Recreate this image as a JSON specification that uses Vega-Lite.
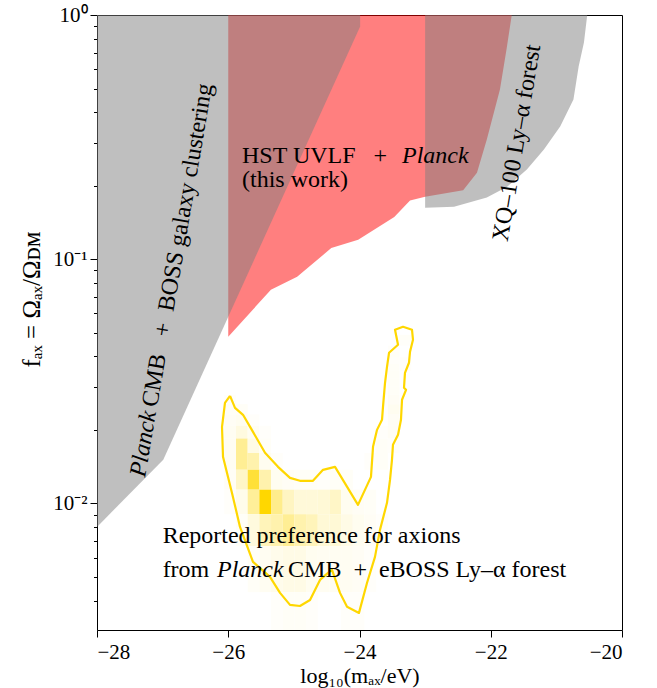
{
  "$schema": "https://vega.github.io/schema/vega-lite/v6.json",
  "width": 525,
  "height": 615,
  "autosize": {"type": "none"},
  "padding": {"left": 97, "top": 15, "right": 35, "bottom": 58},
  "config": {
    "font": "Liberation Serif",
    "view": {"stroke": "black", "strokeWidth": 1},
    "axis": {"domain": false, "grid": false, "tickColor": "black", "tickWidth": 1, "labelColor": "black", "titleColor": "black", "labelFont": "Liberation Serif", "titleFont": "Liberation Serif", "titleFontWeight": "normal", "labelFontSize": 21, "titleFontSize": 23}
  },
  "encoding": {
    "x": {"field": "m", "type": "quantitative", "scale": {"domain": [-28, -20], "nice": false, "zero": false},
      "axis": {"values": [-28, -26, -24, -22, -20], "tickSize": 7, "labelPadding": 4, "title": "log₁₀(mₐₓ/eV)", "titleFontSize": 22, "titleY": 52, "titleBaseline": "alphabetic"}},
    "y": {"field": "f", "type": "quantitative", "scale": {"type": "log", "domain": [0.00303, 1], "nice": false},
      "axis": {"values": [0.004, 0.005, 0.006, 0.007, 0.008, 0.009, 0.01, 0.02, 0.03, 0.04, 0.05, 0.06, 0.07, 0.08, 0.09, 0.1, 0.2, 0.3, 0.4, 0.5, 0.6, 0.7, 0.8, 0.9, 1],
        "tickSize": {"condition": {"test": "datum.value === 1 || datum.value === 0.1 || datum.value === 0.01", "value": 7}, "value": 3.5},
        "labelExpr": "datum.value === 1 ? '10⁰' : datum.value === 0.1 ? '10⁻¹' : datum.value === 0.01 ? '10⁻²' : ''",
        "labelPadding": 3, "title": "fₐₓ = Ωₐₓ/Ωᴅᴍ", "titleFontSize": 25, "titleX": -66, "titleY": 284, "titleBaseline": "middle"}}
  },
  "layer": [
    {
      "data": {"values": [
        {"m": -26.0, "f": 0.0481}, {"m": -25.35, "f": 0.075}, {"m": -24.95, "f": 0.0848}, {"m": -24.43, "f": 0.111},
        {"m": -24.02, "f": 0.12}, {"m": -23.47, "f": 0.149}, {"m": -23.23, "f": 0.174}, {"m": -23.0, "f": 0.18},
        {"m": -22.42, "f": 0.1915}, {"m": -22.21, "f": 0.226}, {"m": -22.06, "f": 0.309}, {"m": -21.86, "f": 0.495},
        {"m": -21.76, "f": 0.722}, {"m": -21.68, "f": 1.0}
      ]},
      "mark": {"type": "area", "color": "#ff0000", "opacity": 0.5},
      "encoding": {"y2": {"datum": 1}}
    },
    {
      "data": {"values": [
        {"m": -28.0, "f": 0.00801}, {"m": -26.99, "f": 0.0151}, {"m": -23.99, "f": 0.897}
      ]},
      "mark": {"type": "area", "color": "#808080", "opacity": 0.5},
      "encoding": {"y2": {"datum": 1}}
    },
    {
      "data": {"values": [
        {"m": -23.0, "f": 0.1626}, {"m": -22.56, "f": 0.164}, {"m": -22.06, "f": 0.1787}, {"m": -21.75, "f": 0.198},
        {"m": -21.45, "f": 0.233}, {"m": -21.19, "f": 0.281}, {"m": -20.94, "f": 0.35}, {"m": -20.74, "f": 0.451},
        {"m": -20.66, "f": 0.617}, {"m": -20.58, "f": 0.772}, {"m": -20.53, "f": 1.0}
      ]},
      "mark": {"type": "area", "color": "#808080", "opacity": 0.5},
      "encoding": {"y2": {"datum": 1}}
    },
    {
      "data": {"values": [
        {"m": -26.060, "m2": -25.882, "f": 0.02548, "f2": 0.02783, "v": 0.02},
        {"m": -26.060, "m2": -25.882, "f": 0.02313, "f2": 0.02548, "v": 0.03},
        {"m": -25.882, "m2": -25.704, "f": 0.02313, "f2": 0.02548, "v": 0.03},
        {"m": -26.060, "m2": -25.882, "f": 0.02078, "f2": 0.02313, "v": 0.04},
        {"m": -25.882, "m2": -25.704, "f": 0.02078, "f2": 0.02313, "v": 0.06},
        {"m": -25.704, "m2": -25.526, "f": 0.02078, "f2": 0.02313, "v": 0.02},
        {"m": -26.060, "m2": -25.882, "f": 0.01843, "f2": 0.02078, "v": 0.05},
        {"m": -25.882, "m2": -25.704, "f": 0.01843, "f2": 0.02078, "v": 0.12},
        {"m": -25.704, "m2": -25.526, "f": 0.01843, "f2": 0.02078, "v": 0.05},
        {"m": -25.526, "m2": -25.348, "f": 0.01843, "f2": 0.02078, "v": 0.02},
        {"m": -26.060, "m2": -25.882, "f": 0.01608, "f2": 0.01843, "v": 0.05},
        {"m": -25.882, "m2": -25.704, "f": 0.01608, "f2": 0.01843, "v": 0.42},
        {"m": -25.704, "m2": -25.526, "f": 0.01608, "f2": 0.01843, "v": 0.1},
        {"m": -25.526, "m2": -25.348, "f": 0.01608, "f2": 0.01843, "v": 0.03},
        {"m": -26.060, "m2": -25.882, "f": 0.01373, "f2": 0.01608, "v": 0.05},
        {"m": -25.882, "m2": -25.704, "f": 0.01373, "f2": 0.01608, "v": 0.42},
        {"m": -25.704, "m2": -25.526, "f": 0.01373, "f2": 0.01608, "v": 0.32},
        {"m": -25.526, "m2": -25.348, "f": 0.01373, "f2": 0.01608, "v": 0.06},
        {"m": -25.348, "m2": -25.170, "f": 0.01373, "f2": 0.01608, "v": 0.02},
        {"m": -26.060, "m2": -25.882, "f": 0.01138, "f2": 0.01373, "v": 0.04},
        {"m": -25.882, "m2": -25.704, "f": 0.01138, "f2": 0.01373, "v": 0.22},
        {"m": -25.704, "m2": -25.526, "f": 0.01138, "f2": 0.01373, "v": 0.78},
        {"m": -25.526, "m2": -25.348, "f": 0.01138, "f2": 0.01373, "v": 0.32},
        {"m": -25.348, "m2": -25.170, "f": 0.01138, "f2": 0.01373, "v": 0.06},
        {"m": -25.170, "m2": -24.992, "f": 0.01138, "f2": 0.01373, "v": 0.04},
        {"m": -24.992, "m2": -24.814, "f": 0.01138, "f2": 0.01373, "v": 0.03},
        {"m": -24.814, "m2": -24.636, "f": 0.01138, "f2": 0.01373, "v": 0.03},
        {"m": -24.636, "m2": -24.458, "f": 0.01138, "f2": 0.01373, "v": 0.02},
        {"m": -24.458, "m2": -24.280, "f": 0.01138, "f2": 0.01373, "v": 0.03},
        {"m": -24.280, "m2": -24.102, "f": 0.01138, "f2": 0.01373, "v": 0.03},
        {"m": -26.060, "m2": -25.882, "f": 0.00903, "f2": 0.01138, "v": 0.02},
        {"m": -25.882, "m2": -25.704, "f": 0.00903, "f2": 0.01138, "v": 0.08},
        {"m": -25.704, "m2": -25.526, "f": 0.00903, "f2": 0.01138, "v": 0.4},
        {"m": -25.526, "m2": -25.348, "f": 0.00903, "f2": 0.01138, "v": 1.0},
        {"m": -25.348, "m2": -25.170, "f": 0.00903, "f2": 0.01138, "v": 0.45},
        {"m": -25.170, "m2": -24.992, "f": 0.00903, "f2": 0.01138, "v": 0.24},
        {"m": -24.992, "m2": -24.814, "f": 0.00903, "f2": 0.01138, "v": 0.15},
        {"m": -24.814, "m2": -24.636, "f": 0.00903, "f2": 0.01138, "v": 0.15},
        {"m": -24.636, "m2": -24.458, "f": 0.00903, "f2": 0.01138, "v": 0.16},
        {"m": -24.458, "m2": -24.280, "f": 0.00903, "f2": 0.01138, "v": 0.22},
        {"m": -24.280, "m2": -24.102, "f": 0.00903, "f2": 0.01138, "v": 0.06},
        {"m": -24.102, "m2": -23.924, "f": 0.00903, "f2": 0.01138, "v": 0.04},
        {"m": -23.924, "m2": -23.746, "f": 0.00903, "f2": 0.01138, "v": 0.03},
        {"m": -25.882, "m2": -25.704, "f": 0.00668, "f2": 0.00903, "v": 0.03},
        {"m": -25.704, "m2": -25.526, "f": 0.00668, "f2": 0.00903, "v": 0.13},
        {"m": -25.526, "m2": -25.348, "f": 0.00668, "f2": 0.00903, "v": 0.27},
        {"m": -25.348, "m2": -25.170, "f": 0.00668, "f2": 0.00903, "v": 0.32},
        {"m": -25.170, "m2": -24.992, "f": 0.00668, "f2": 0.00903, "v": 0.42},
        {"m": -24.992, "m2": -24.814, "f": 0.00668, "f2": 0.00903, "v": 0.32},
        {"m": -24.814, "m2": -24.636, "f": 0.00668, "f2": 0.00903, "v": 0.27},
        {"m": -24.636, "m2": -24.458, "f": 0.00668, "f2": 0.00903, "v": 0.16},
        {"m": -24.458, "m2": -24.280, "f": 0.00668, "f2": 0.00903, "v": 0.16},
        {"m": -24.280, "m2": -24.102, "f": 0.00668, "f2": 0.00903, "v": 0.1},
        {"m": -24.102, "m2": -23.924, "f": 0.00668, "f2": 0.00903, "v": 0.06},
        {"m": -23.924, "m2": -23.746, "f": 0.00668, "f2": 0.00903, "v": 0.04},
        {"m": -23.746, "m2": -23.568, "f": 0.00668, "f2": 0.00903, "v": 0.02},
        {"m": -25.704, "m2": -25.526, "f": 0.00433, "f2": 0.00668, "v": 0.03},
        {"m": -25.526, "m2": -25.348, "f": 0.00433, "f2": 0.00668, "v": 0.05},
        {"m": -25.348, "m2": -25.170, "f": 0.00433, "f2": 0.00668, "v": 0.08},
        {"m": -25.170, "m2": -24.992, "f": 0.00433, "f2": 0.00668, "v": 0.1},
        {"m": -24.992, "m2": -24.814, "f": 0.00433, "f2": 0.00668, "v": 0.1},
        {"m": -24.814, "m2": -24.636, "f": 0.00433, "f2": 0.00668, "v": 0.06},
        {"m": -24.636, "m2": -24.458, "f": 0.00433, "f2": 0.00668, "v": 0.05},
        {"m": -24.458, "m2": -24.280, "f": 0.00433, "f2": 0.00668, "v": 0.05},
        {"m": -24.280, "m2": -24.102, "f": 0.00433, "f2": 0.00668, "v": 0.05},
        {"m": -24.102, "m2": -23.924, "f": 0.00433, "f2": 0.00668, "v": 0.04},
        {"m": -23.924, "m2": -23.746, "f": 0.00433, "f2": 0.00668, "v": 0.02},
        {"m": -25.348, "m2": -25.170, "f": 0.00198, "f2": 0.00433, "v": 0.02},
        {"m": -25.170, "m2": -24.992, "f": 0.00198, "f2": 0.00433, "v": 0.03},
        {"m": -24.992, "m2": -24.814, "f": 0.00198, "f2": 0.00433, "v": 0.03},
        {"m": -24.814, "m2": -24.636, "f": 0.00198, "f2": 0.00433, "v": 0.02},
        {"m": -24.280, "m2": -24.102, "f": 0.00198, "f2": 0.00433, "v": 0.02},
        {"m": -24.102, "m2": -23.924, "f": 0.00198, "f2": 0.00433, "v": 0.02},
        {"m": -23.924, "m2": -23.746, "f": 0.01373, "f2": 0.01608, "v": 0.02},
        {"m": -23.746, "m2": -23.568, "f": 0.01373, "f2": 0.01608, "v": 0.03},
        {"m": -23.746, "m2": -23.568, "f": 0.01608, "f2": 0.01843, "v": 0.03},
        {"m": -23.568, "m2": -23.390, "f": 0.01608, "f2": 0.01843, "v": 0.02},
        {"m": -23.746, "m2": -23.568, "f": 0.01843, "f2": 0.02078, "v": 0.02},
        {"m": -23.568, "m2": -23.390, "f": 0.01843, "f2": 0.02078, "v": 0.04},
        {"m": -23.568, "m2": -23.390, "f": 0.02078, "f2": 0.02313, "v": 0.04},
        {"m": -23.568, "m2": -23.390, "f": 0.02313, "f2": 0.02548, "v": 0.06},
        {"m": -23.568, "m2": -23.390, "f": 0.02548, "f2": 0.02783, "v": 0.04},
        {"m": -23.568, "m2": -23.390, "f": 0.02783, "f2": 0.03018, "v": 0.03},
        {"m": -23.568, "m2": -23.390, "f": 0.03018, "f2": 0.03253, "v": 0.03},
        {"m": -23.568, "m2": -23.390, "f": 0.03253, "f2": 0.03488, "v": 0.03},
        {"m": -23.568, "m2": -23.390, "f": 0.03488, "f2": 0.03723, "v": 0.03},
        {"m": -23.390, "m2": -23.212, "f": 0.03488, "f2": 0.03723, "v": 0.02},
        {"m": -23.568, "m2": -23.390, "f": 0.03723, "f2": 0.03958, "v": 0.02},
        {"m": -23.390, "m2": -23.212, "f": 0.03723, "f2": 0.03958, "v": 0.02},
        {"m": -23.568, "m2": -23.390, "f": 0.03958, "f2": 0.04193, "v": 0.03},
        {"m": -23.568, "m2": -23.390, "f": 0.04193, "f2": 0.04428, "v": 0.02},
        {"m": -23.390, "m2": -23.212, "f": 0.04428, "f2": 0.04663, "v": 0.02},
        {"m": -23.390, "m2": -23.212, "f": 0.04663, "f2": 0.04898, "v": 0.03}
      ]},
      "mark": {"type": "rect", "clip": true},
      "encoding": {
        "x2": {"field": "m2"},
        "y2": {"field": "f2"},
        "color": {"field": "v", "type": "quantitative", "scale": {"domain": [0, 1], "range": ["#ffffff", "#ffd700"], "interpolate": "rgb"}, "legend": null}
      }
    },
    {
      "data": {"values": [
        {"i": 1, "m": -25.973, "f": 0.02757}, {"i": 2, "m": -25.897, "f": 0.02462}, {"i": 3, "m": -25.775, "f": 0.02305},
        {"i": 4, "m": -25.623, "f": 0.01963}, {"i": 5, "m": -25.44, "f": 0.01611}, {"i": 6, "m": -25.242, "f": 0.01411},
        {"i": 7, "m": -25.059, "f": 0.01272}, {"i": 8, "m": -24.907, "f": 0.01237}, {"i": 9, "m": -24.709, "f": 0.01237},
        {"i": 10, "m": -24.556, "f": 0.01372}, {"i": 11, "m": -24.373, "f": 0.01411}, {"i": 12, "m": -24.023, "f": 0.00986},
        {"i": 13, "m": -23.825, "f": 0.01284}, {"i": 14, "m": -23.794, "f": 0.01704}, {"i": 15, "m": -23.733, "f": 0.02},
        {"i": 16, "m": -23.657, "f": 0.02199}, {"i": 17, "m": -23.642, "f": 0.02485}, {"i": 18, "m": -23.611, "f": 0.03118},
        {"i": 19, "m": -23.581, "f": 0.03625}, {"i": 20, "m": -23.55, "f": 0.04137}, {"i": 21, "m": -23.413, "f": 0.04463},
        {"i": 22, "m": -23.459, "f": 0.05141}, {"i": 23, "m": -23.337, "f": 0.05288}, {"i": 24, "m": -23.2, "f": 0.05141},
        {"i": 25, "m": -23.185, "f": 0.04678}, {"i": 26, "m": -23.23, "f": 0.04177}, {"i": 27, "m": -23.246, "f": 0.03765},
        {"i": 28, "m": -23.307, "f": 0.03425}, {"i": 29, "m": -23.322, "f": 0.02974}, {"i": 30, "m": -23.291, "f": 0.02918},
        {"i": 31, "m": -23.352, "f": 0.02656}, {"i": 32, "m": -23.368, "f": 0.02199}, {"i": 33, "m": -23.413, "f": 0.01909},
        {"i": 34, "m": -23.49, "f": 0.01737}, {"i": 35, "m": -23.505, "f": 0.01508}, {"i": 36, "m": -23.535, "f": 0.01248},
        {"i": 37, "m": -23.581, "f": 0.01005}, {"i": 38, "m": -23.688, "f": 0.00779}, {"i": 39, "m": -23.764, "f": 0.00604},
        {"i": 40, "m": -23.886, "f": 0.00472}, {"i": 41, "m": -24.008, "f": 0.00356}, {"i": 42, "m": -24.19, "f": 0.00377},
        {"i": 43, "m": -24.297, "f": 0.0043}, {"i": 44, "m": -24.419, "f": 0.00534}, {"i": 45, "m": -24.48, "f": 0.00519},
        {"i": 46, "m": -24.602, "f": 0.00486}, {"i": 47, "m": -24.754, "f": 0.00402}, {"i": 48, "m": -24.907, "f": 0.0038},
        {"i": 49, "m": -25.059, "f": 0.00384}, {"i": 50, "m": -25.211, "f": 0.0043}, {"i": 51, "m": -25.364, "f": 0.005},
        {"i": 52, "m": -25.623, "f": 0.00576}, {"i": 53, "m": -25.821, "f": 0.00801}, {"i": 54, "m": -25.943, "f": 0.01104},
        {"i": 55, "m": -26.08, "f": 0.01551}, {"i": 56, "m": -26.095, "f": 0.02058}, {"i": 57, "m": -26.05, "f": 0.02582},
        {"i": 58, "m": -25.973, "f": 0.02757}
      ]},
      "mark": {"type": "line", "color": "#ffd700", "strokeWidth": 2.2, "strokeJoin": "round"},
      "encoding": {"order": {"field": "i", "type": "quantitative"}}
    },
    {
      "data": {"values": [
        {"m": -25.79, "f": 0.2486, "t": "HST UVLF\u00a0\u00a0 +"},
        {"m": -25.79, "f": 0.1982, "t": "(this work)"},
        {"m": -27.0, "f": 0.00691, "t": "Reported preference for axions"},
        {"m": -27.0, "f": 0.00501, "t": "from"},
        {"m": -25.089, "f": 0.00501, "t": "CMB\u00a0 +\u00a0 eBOSS Ly–α forest"}
      ]},
      "mark": {"type": "text", "align": "left", "baseline": "alphabetic", "fontSize": 24, "font": "Liberation Serif", "color": "black"},
      "encoding": {"text": {"field": "t"}}
    },
    {
      "data": {"values": [
        {"m": -23.352, "f": 0.2486, "t": "Planck"},
        {"m": -26.171, "f": 0.00501, "t": "Planck"}
      ]},
      "mark": {"type": "text", "align": "left", "baseline": "alphabetic", "fontSize": 24, "font": "Liberation Serif", "fontStyle": "italic", "color": "black"},
      "encoding": {"text": {"field": "t"}}
    },
    {
      "data": {"values": [
        {"m": -27.086, "f": 0.02462, "t": "CMB\u00a0\u00a0 +\u00a0 BOSS galaxy clustering"}
      ]},
      "mark": {"type": "text", "align": "left", "baseline": "alphabetic", "angle": 279.7, "fontSize": 24, "font": "Liberation Serif", "color": "black"},
      "encoding": {"text": {"field": "t"}}
    },
    {
      "data": {"values": [
        {"m": -27.27, "f": 0.01272, "t": "Planck"}
      ]},
      "mark": {"type": "text", "align": "left", "baseline": "alphabetic", "angle": 279.7, "fontSize": 24, "font": "Liberation Serif", "fontStyle": "italic", "color": "black"},
      "encoding": {"text": {"field": "t"}}
    },
    {
      "data": {"values": [
        {"m": -21.6, "f": 0.2994, "t": "XQ–100 Ly–α forest"}
      ]},
      "mark": {"type": "text", "align": "center", "baseline": "middle", "angle": 279.5, "fontSize": 24, "font": "Liberation Serif", "color": "black"},
      "encoding": {"text": {"field": "t"}}
    }
  ]
}
